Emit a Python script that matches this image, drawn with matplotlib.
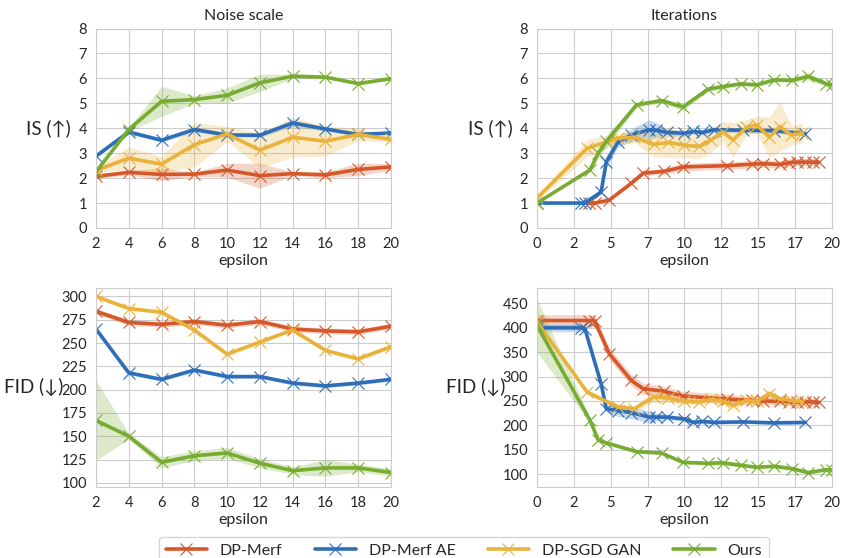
import numpy as np
import matplotlib
matplotlib.use("Agg")
import matplotlib.pyplot as plt
import matplotlib.ticker as ticker
import seaborn as sns

sns.set_style("whitegrid")
plt.rcParams['font.family'] = ['Lato', 'DejaVu Sans']
plt.rcParams['font.size'] = 10

names = ['DP-Merf', 'DP-Merf AE', 'DP-SGD GAN', 'Ours']
colors = ['#D6582A', '#2E6EB8', '#E9B23A', '#77AC30']

# ---- noise scale (left column) ----
eps_noise = [2, 4, 6, 8, 10, 12, 14, 16, 18, 20]
is_noise = [
    [2.07, 2.23, 2.15, 2.16, 2.32, 2.10, 2.18, 2.13, 2.35, 2.45],
    [2.88, 3.85, 3.52, 3.95, 3.73, 3.72, 4.21, 3.97, 3.75, 3.81],
    [2.31, 2.80, 2.56, 3.34, 3.77, 3.12, 3.64, 3.48, 3.75, 3.55],
    [2.25, 3.95, 5.08, 5.15, 5.32, 5.82, 6.09, 6.05, 5.79, 5.99],
]
is_noise_sd = [
    [0.07, 0.10, 0.25, 0.08, 0.28, 0.50, 0.08, 0.12, 0.25, 0.13],
    [0.05, 0.08, 0.08, 0.10, 0.08, 0.08, 0.15, 0.08, 0.08, 0.05],
    [0.10, 0.45, 0.30, 0.90, 0.30, 0.70, 0.80, 0.60, 0.25, 0.10],
    [0.05, 0.08, 0.60, 0.15, 0.30, 0.35, 0.08, 0.05, 0.05, 0.05],
]
fid_noise = [
    [284, 272, 270, 273, 269, 273, 265, 263, 262, 268],
    [265, 218, 211, 221, 214, 214, 207, 204, 207, 211],
    [300, 287, 283, 264, 238, 251, 264, 242, 233, 246],
    [167, 150, 122, 129, 132, 121, 113, 116, 116, 111],
]
fid_noise_sd = [
    [3, 3, 3, 3, 3, 3, 3, 3, 3, 3],
    [2, 2, 2, 2, 2, 2, 2, 2, 2, 2],
    [2, 2, 2, 2, 2, 2, 2, 2, 2, 2],
    [43, 3, 6, 5, 6, 5, 4, 9, 4, 4],
]

# ---- iterations (right column) ----
eps_it_is = [
    [3.5, 3.9, 4.9, 6.4, 7.2, 8.6, 9.9, 12.9, 14.6, 15.3, 16.5, 17.1, 17.6, 18.2, 18.7, 19.1],
    [0, 3.0, 3.25, 4.35, 4.7, 5.5, 6.4, 7.6, 8.1, 8.8, 10.0, 10.6, 11.2, 12.0, 14.0, 16.1, 18.2],
    [0, 3.4, 5.5, 6.6, 7.9, 8.9, 10.0, 11.0, 11.8, 12.6, 13.3, 14.2, 14.9, 15.75, 16.45, 17.25, 18.0],
    [0, 3.6, 4.15, 4.7, 6.75, 8.45, 9.9, 11.6, 12.6, 13.8, 14.9, 16.1, 17.3, 18.4, 19.6, 20.0],
]
is_it = [
    [1.0, 1.0, 1.12, 1.8, 2.2, 2.27, 2.45, 2.5, 2.56, 2.58, 2.55, 2.62, 2.64, 2.64, 2.64, 2.64],
    [1.0, 1.0, 1.0, 1.45, 2.66, 3.45, 3.73, 3.94, 3.92, 3.83, 3.8, 3.87, 3.83, 3.94, 3.92, 3.9, 3.78],
    [1.2, 3.2, 3.6, 3.64, 3.35, 3.43, 3.32, 3.27, 3.53, 3.85, 3.53, 4.04, 4.14, 3.64, 4.07, 3.73, 3.8],
    [1.0, 2.33, 3.0, 3.47, 4.94, 5.11, 4.85, 5.57, 5.67, 5.78, 5.74, 5.94, 5.92, 6.08, 5.78, 5.75],
]
is_it_sd = [
    [0.02, 0.03, 0.05, 0.08, 0.1, 0.12, 0.15, 0.15, 0.15, 0.15, 0.15, 0.15, 0.15, 0.15, 0.15, 0.15],
    [0.0, 0.02, 0.02, 0.1, 0.25, 0.2, 0.25, 0.4, 0.3, 0.15, 0.1, 0.1, 0.1, 0.1, 0.1, 0.1, 0.1],
    [0.1, 0.35, 0.2, 0.2, 0.5, 0.6, 0.5, 0.5, 0.5, 0.4, 0.7, 0.3, 0.35, 0.8, 1.0, 0.4, 0.4],
    [0.02, 0.05, 0.2, 0.25, 0.1, 0.1, 0.15, 0.1, 0.1, 0.08, 0.08, 0.08, 0.08, 0.15, 0.1, 0.1],
]
eps_it_fid = [
    [0, 3.5, 3.9, 4.9, 6.4, 7.2, 8.6, 9.9, 12.9, 14.6, 15.3, 16.5, 17.1, 17.6, 18.2, 18.7, 19.1],
    eps_it_is[1],
    eps_it_is[2],
    eps_it_is[3],
]
fid_it = [
    [415, 415, 415, 347, 292, 275, 270, 260, 254, 251, 250, 249, 248, 248, 248, 248, 247],
    [400, 400, 398, 285, 234, 230, 226, 217, 217, 217, 213, 206, 208, 206, 207, 205, 206],
    [412, 268, 238, 234, 258, 256, 249, 248, 253, 250, 241, 251, 249, 265, 255, 251, 248],
    [405, 210, 170, 164, 146, 143, 124, 122, 123, 118, 114, 116, 111, 103, 109, 108],
]
fid_it_sd = [
    [12, 12, 12, 12, 12, 12, 10, 10, 10, 8, 8, 8, 8, 8, 8, 8, 8],
    [8, 8, 8, 8, 8, 12, 12, 12, 8, 5, 5, 4, 4, 4, 3, 3, 3],
    [5, 5, 5, 5, 12, 8, 6, 6, 6, 6, 10, 5, 5, 10, 5, 5, 5],
    [55, 5, 4, 4, 3, 3, 4, 4, 5, 4, 3, 4, 3, 4, 3, 3],
]


def draw(ax, xs, ys, sds):
    handles = []
    for i in range(4):
        x = np.asarray(xs[i], float)
        y = np.asarray(ys[i], float)
        s = np.asarray(sds[i], float)
        ax.fill_between(x, y - s, y + s, color=colors[i], alpha=0.25, lw=0)
        h, = ax.plot(x, y, c=colors[i], lw=2.6, marker='x', ms=8, mew=0.8, label=names[i])
        handles.append(h)
    return handles


fig = plt.figure(figsize=(8.41, 5.58), dpi=100)
W, H = 0.3508, 0.3575
ax1 = fig.add_axes([0.1141, 0.5914, W, H])
ax2 = fig.add_axes([0.6385, 0.5914, W, H])
ax3 = fig.add_axes([0.1141, 0.1272, W, H])
ax4 = fig.add_axes([0.6385, 0.1272, W, H])

hs = draw(ax1, [eps_noise] * 4, is_noise, is_noise_sd)
draw(ax2, eps_it_is, is_it, is_it_sd)
draw(ax3, [eps_noise] * 4, fid_noise, fid_noise_sd)
draw(ax4, eps_it_fid, fid_it, fid_it_sd)

for ax in (ax1, ax3):
    ax.set_xlim(2, 20)
    ax.set_xticks(np.arange(2, 21, 2))
for ax in (ax2, ax4):
    ax.set_xlim(0, 20)
    ax.set_xticks(np.arange(0, 20.1, 2.5))
    ax.xaxis.set_major_formatter(ticker.FuncFormatter(lambda v, p: '%d' % v))
for ax in (ax1, ax2):
    ax.set_ylim(0, 8)
    ax.set_yticks(np.arange(0, 9, 1))
ax3.set_ylim(95.5, 309.5)
ax3.set_yticks(np.arange(100, 301, 25))
ax4.set_ylim(73.4, 482.7)
ax4.set_yticks(np.arange(100, 451, 50))

ax1.set_title('Noise scale', fontsize=11.5)
ax2.set_title('Iterations', fontsize=11.5)
for ax, lab, xc in [(ax1, 'IS (↑)', -0.085), (ax2, 'IS (↑)', -0.081),
                    (ax3, 'FID (↓)', -0.112), (ax4, 'FID (↓)', -0.108)]:
    ax.set_xlabel('epsilon', fontsize=11.5, labelpad=2)
    ax.set_ylabel(lab, fontsize=13.5, rotation=0, ha='right', va='center')
    ax.yaxis.set_label_coords(xc, 0.5)
    ax.tick_params(labelsize=10.5, pad=3)

fig.legend(hs, names, loc='upper center', bbox_to_anchor=(0.5517, 0.052),
           ncol=4, fontsize=11.5, handlelength=2.6, columnspacing=2.0,
           frameon=True, edgecolor='0.8')

fig.savefig('out.png', dpi=100)
